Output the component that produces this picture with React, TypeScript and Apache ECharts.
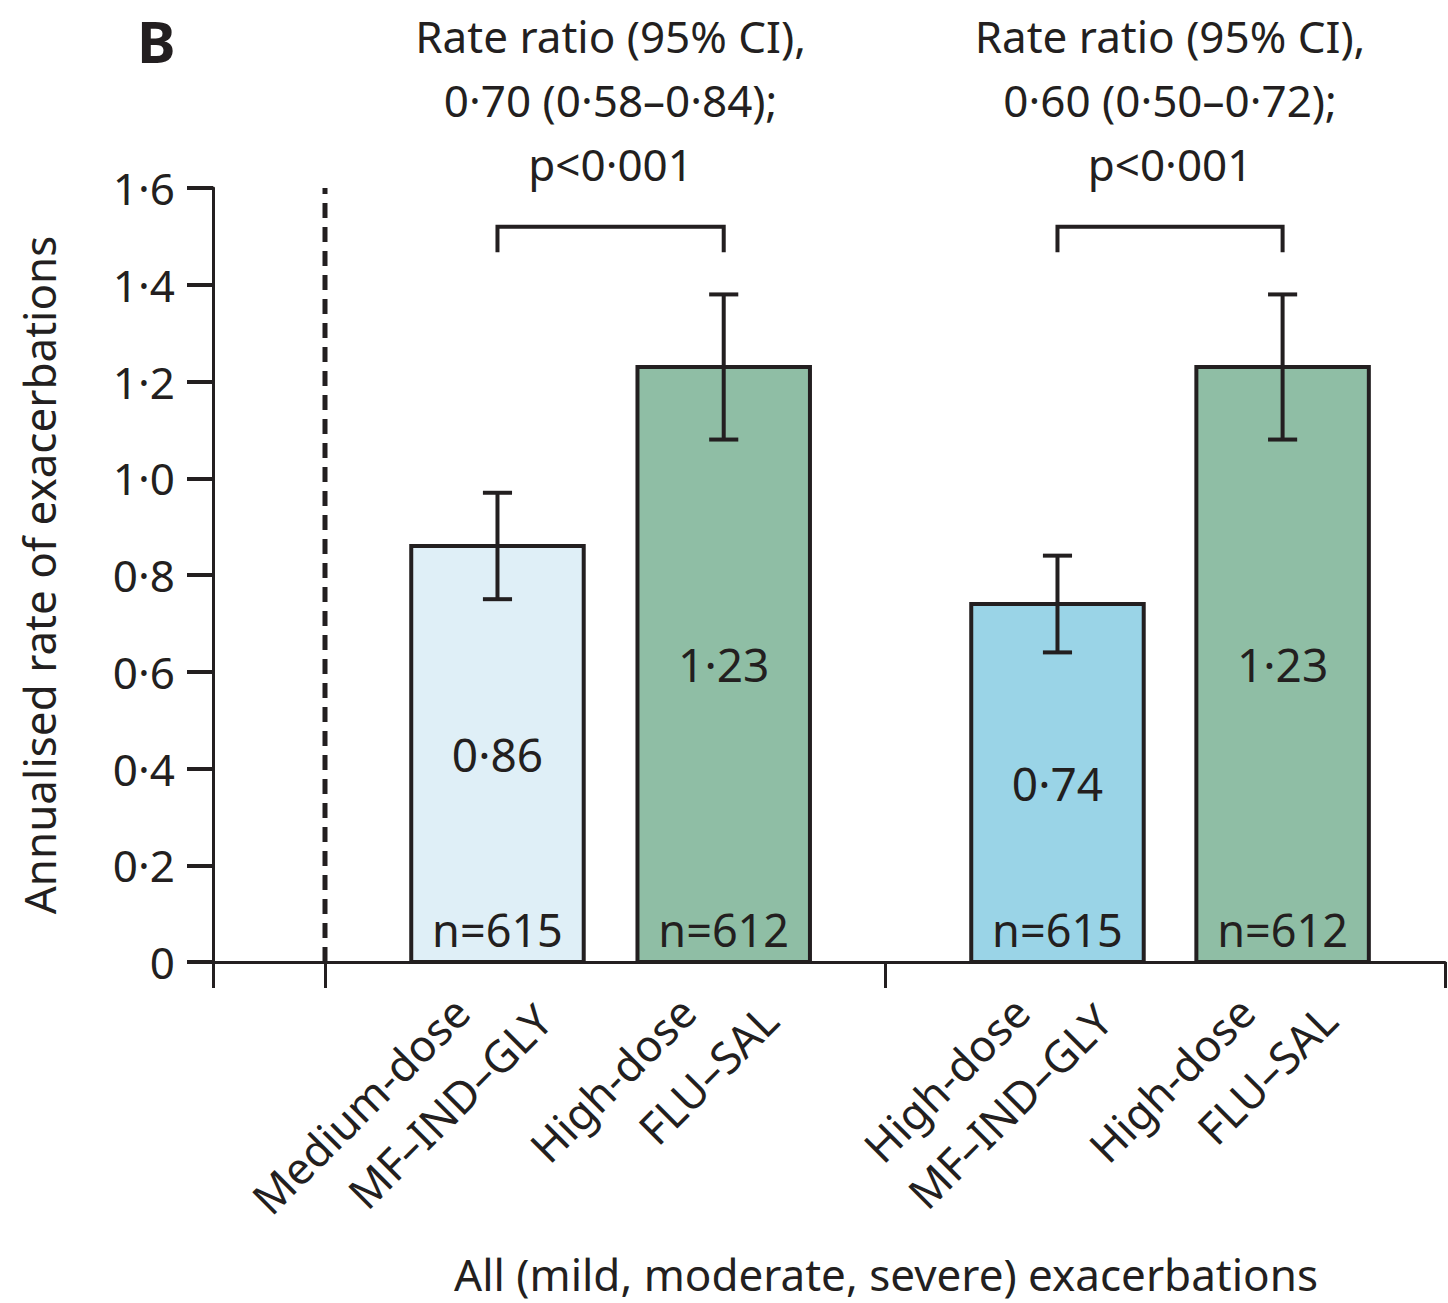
import React, { useEffect, useRef } from 'react';
import * as echarts from 'echarts';

// ---------- data ----------
const labelLine1 = ['Medium-dose', 'High-dose', 'High-dose', 'High-dose'];
const labelLine2 = ['MF–IND–GLY', 'FLU–SAL', 'MF–IND–GLY', 'FLU–SAL'];
const barPositions = [2.54, 4.56, 7.54, 9.55];
const rates = [0.86, 1.23, 0.74, 1.23];
const ciLow = [0.75, 1.08, 0.64, 1.08];
const ciHigh = [0.97, 1.38, 0.84, 1.38];
const nPatients = [615, 612, 615, 612];
const barColors = ['#dfeff7', '#8fbea5', '#9ad4e7', '#8fbea5'];
const comparePairs = [
  [0, 1],
  [2, 3],
];
const rateRatios = ['0·70 (0·58–0·84)', '0·60 (0·50–0·72)'];
const pValues = ['p<0·001', 'p<0·001'];
const xTickValues = [0, 1, 6, 11];
const dividerX = 1;

// ---------- style constants ----------
const INK = '#231f20';
const FONT = "'Noto Sans', sans-serif";
const BAR_W = 1.54;
const CAP_HALF = 0.13;
const BRACKET_TOP = 1.52;
const BRACKET_LEG = 1.467;
const L1_OFF = -0.325;
const L2_OFF = 0.41;

const dot = (s: string) => s.replace('.', '·');

function nearestIndex(v: number, arr: number[]) {
  let best = 0;
  let d = Infinity;
  arr.forEach((p, i) => {
    const dd = Math.abs(p - v);
    if (dd < d) {
      d = dd;
      best = i;
    }
  });
  return best;
}

const labelPos1 = barPositions.map((p) => p + L1_OFF);
const labelPos2 = barPositions.map((p) => p + L2_OFF);

const option: any = {
  animation: false,
  backgroundColor: '#ffffff',
  textStyle: { fontFamily: FONT, color: INK },
  grid: { left: 213, right: 3, top: 188, bottom: 341, containLabel: false },
  xAxis: [
    {
      type: 'value',
      position: 'bottom',
      min: 0,
      max: 11,
      interval: 1,
      splitLine: { show: false },
      axisLine: { show: true, onZero: false, lineStyle: { color: INK, width: 3 } },
      axisTick: {
        show: true,
        customValues: xTickValues,
        length: 26,
        lineStyle: { color: INK, width: 3 },
      },
      axisLabel: {
        show: true,
        customValues: labelPos1,
        rotate: 45,
        margin: 42,
        fontSize: 44,
        fontFamily: FONT,
        color: INK,
        formatter: (v: number) => labelLine1[nearestIndex(v, labelPos1)],
      },
    },
    {
      type: 'value',
      position: 'bottom',
      min: 0,
      max: 11,
      interval: 1,
      splitLine: { show: false },
      axisLine: { show: false },
      axisTick: { show: false },
      axisLabel: {
        show: true,
        customValues: labelPos2,
        rotate: 45,
        margin: 50,
        fontSize: 44,
        fontFamily: FONT,
        color: INK,
        formatter: (v: number) => labelLine2[nearestIndex(v, labelPos2)],
      },
    },
  ],
  yAxis: {
    type: 'value',
    min: 0,
    max: 1.6,
    interval: 0.2,
    name: 'Annualised rate of exacerbations',
    nameLocation: 'middle',
    nameGap: 152,
    nameTextStyle: { fontSize: 44, fontFamily: FONT, color: INK },
    splitLine: { show: false },
    axisLine: { show: true, lineStyle: { color: INK, width: 3 } },
    axisTick: { show: true, length: 26, lineStyle: { color: INK, width: 4 } },
    axisLabel: {
      margin: 38,
      fontSize: 44,
      fontFamily: FONT,
      color: INK,
      formatter: (v: number) => (v === 0 ? '0' : dot(v.toFixed(1))),
    },
  },
  graphic: [
    {
      type: 'text',
      x: 137,
      y: 40,
      style: {
        text: 'B',
        fontSize: 58,
        fontWeight: 'bold',
        fontFamily: FONT,
        fill: INK,
        verticalAlign: 'middle',
        align: 'left',
      },
    },
    {
      type: 'text',
      x: 886,
      y: 1274,
      style: {
        text: 'All (mild, moderate, severe) exacerbations',
        fontSize: 44,
        fontFamily: FONT,
        fill: INK,
        align: 'center',
        verticalAlign: 'middle',
      },
    },
  ],
  series: [
    {
      type: 'line',
      data: [
        [dividerX, 0],
        [dividerX, 1.6],
      ],
      symbol: 'none',
      silent: true,
      lineStyle: { color: INK, width: 5, type: [15, 9] },
      z: 1,
    },
    {
      type: 'custom',
      clip: false,
      z: 2,
      data: barPositions.map((p, i) => [p, rates[i], nPatients[i], i]),
      renderItem: (params: any, api: any) => {
        const x = api.value(0);
        const v = api.value(1);
        const n = api.value(2);
        const idx = api.value(3);
        const p0 = api.coord([x - BAR_W / 2, v]);
        const p1 = api.coord([x + BAR_W / 2, 0]);
        const cx = (p0[0] + p1[0]) / 2;
        return {
          type: 'group',
          children: [
            {
              type: 'rect',
              shape: { x: p0[0], y: p0[1], width: p1[0] - p0[0], height: p1[1] - p0[1] },
              style: { fill: barColors[idx], stroke: INK, lineWidth: 4 },
            },
            {
              type: 'text',
              x: cx,
              y: (p0[1] + p1[1]) / 2,
              style: {
                text: dot(v.toFixed(2)),
                fontSize: 46,
                fontFamily: FONT,
                fill: INK,
                align: 'center',
                verticalAlign: 'middle',
              },
            },
            {
              type: 'text',
              x: cx,
              y: p1[1] - 33,
              style: {
                text: 'n=' + n,
                fontSize: 45,
                fontFamily: FONT,
                fill: INK,
                align: 'center',
                verticalAlign: 'middle',
              },
            },
          ],
        };
      },
    },
    {
      type: 'custom',
      clip: false,
      z: 3,
      data: barPositions.map((p, i) => [p, ciLow[i], ciHigh[i]]),
      renderItem: (params: any, api: any) => {
        const x = api.value(0);
        const lo = api.coord([x, api.value(1)]);
        const hi = api.coord([x, api.value(2)]);
        const capL = api.coord([x - CAP_HALF, 0])[0];
        const capR = api.coord([x + CAP_HALF, 0])[0];
        const ls = { stroke: INK, lineWidth: 4 };
        return {
          type: 'group',
          children: [
            { type: 'line', shape: { x1: lo[0], y1: lo[1], x2: hi[0], y2: hi[1] }, style: ls },
            { type: 'line', shape: { x1: capL, y1: lo[1], x2: capR, y2: lo[1] }, style: ls },
            { type: 'line', shape: { x1: capL, y1: hi[1], x2: capR, y2: hi[1] }, style: ls },
          ],
        };
      },
    },
    {
      type: 'custom',
      clip: false,
      z: 3,
      data: comparePairs.map((pr, i) => [barPositions[pr[0]], barPositions[pr[1]], i]),
      renderItem: (params: any, api: any) => {
        const xa = api.value(0);
        const xb = api.value(1);
        const k = api.value(2);
        const a0 = api.coord([xa, BRACKET_LEG]);
        const a1 = api.coord([xa, BRACKET_TOP]);
        const b1 = api.coord([xb, BRACKET_TOP]);
        const b0 = api.coord([xb, BRACKET_LEG]);
        return {
          type: 'group',
          children: [
            {
              type: 'polyline',
              shape: { points: [a0, a1, b1, b0] },
              style: { stroke: INK, lineWidth: 4, fill: 'none' },
            },
            {
              type: 'text',
              x: (a1[0] + b1[0]) / 2,
              y: a1[1] - 31,
              style: {
                text: 'Rate ratio (95% CI),\n' + rateRatios[k] + ';\n' + pValues[k],
                fontSize: 44,
                lineHeight: 64,
                fontFamily: FONT,
                fill: INK,
                align: 'center',
                verticalAlign: 'bottom',
              },
            },
          ],
        };
      },
    },
  ],
};

export default function App() {
  const ref = useRef<HTMLDivElement>(null);
  useEffect(() => {
    document.body.style.margin = '0';
    const chart = echarts.init(ref.current as HTMLDivElement, null, { renderer: 'svg' });
    chart.setOption(option);
    return () => chart.dispose();
  }, []);
  return <div ref={ref} style={{ width: 1448, height: 1303 }} />;
}
